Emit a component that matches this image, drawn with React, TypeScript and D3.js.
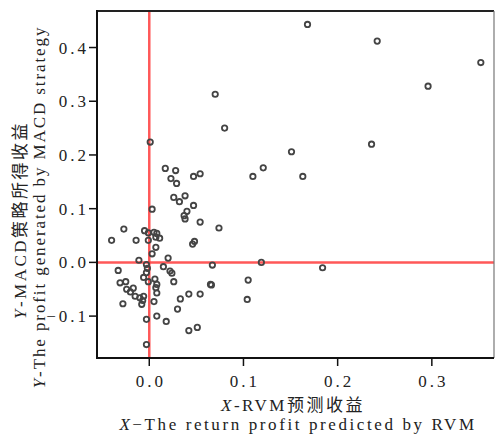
import React from 'react';
import * as d3 from 'd3';

// RVM predicted return (x) vs MACD strategy profit (y)
const xValues = [
  0.168, 0.242, 0.352, 0.296, 0.070, 0.080, 0.236, 0.001, 0.151, 0.121,
  0.110, 0.163, 0.017, 0.028, 0.023, 0.029, 0.047, 0.054, 0.026, 0.032,
  0.038, 0.047, 0.003, 0.040, 0.037, 0.038, 0.054, 0.074, 0.046, 0.048,
  -0.027, -0.040, -0.014, -0.005, -0.001, 0.005, 0.008, 0.011, 0.007, -0.001,
  0.007, 0.003, -0.011, -0.003, 0.020, 0.015, 0.022, 0.024, 0.026, -0.033,
  -0.003, -0.006, -0.001, 0.006, 0.008, 0.007, 0.008, -0.031, -0.025, -0.024,
  -0.020, -0.017, -0.015, -0.010, -0.006, -0.008, -0.028, 0.005, 0.033, 0.042,
  0.054, 0.030, 0.065, 0.066, 0.067, -0.003, 0.008, 0.018, 0.042, 0.051,
  -0.003, 0.119, 0.105, 0.104, 0.184, -0.007, -0.002,
];
const yValues = [
  0.443, 0.412, 0.372, 0.328, 0.313, 0.250, 0.220, 0.224, 0.206, 0.176,
  0.160, 0.160, 0.175, 0.171, 0.156, 0.147, 0.160, 0.165, 0.121, 0.113,
  0.124, 0.106, 0.099, 0.095, 0.087, 0.081, 0.075, 0.064, 0.034, 0.039,
  0.062, 0.041, 0.041, 0.059, 0.055, 0.056, 0.054, 0.045, 0.047, 0.041,
  0.028, 0.016, 0.004, -0.004, 0.008, -0.008, -0.016, -0.020, -0.036, -0.015,
  -0.019, -0.028, -0.036, -0.031, -0.041, -0.047, -0.057, -0.038, -0.036, -0.050,
  -0.055, -0.048, -0.063, -0.066, -0.063, -0.078, -0.077, -0.073, -0.068, -0.059,
  -0.059, -0.087, -0.041, -0.042, -0.005, -0.106, -0.100, -0.110, -0.127, -0.121,
  -0.153, 0.000, -0.033, -0.069, -0.010, -0.071, -0.011,
];

const xTicks = [0, 0.1, 0.2, 0.3];
const xTickLabels = ['0.0', '0.1', '0.2', '0.3'];
const yTicks = [-0.1, 0, 0.1, 0.2, 0.3, 0.4];
const yTickLabels = ['\u22120.1', '0.0', '0.1', '0.2', '0.3', '0.4'];
const xDomain = [-0.0555, 0.366];
const yDomain = [-0.178, 0.468];

const xTitleCn = 'RVM预测收益';
const xTitleEn = 'The return profit predicted by RVM';
const yTitleCn = 'MACD策略所得收益';
const yTitleEn = 'The profit generated by MACD strategy';

const W = 495;
const H = 435;
const L = 97, R = 494, T = 11, B = 358;
const FONT = '"Liberation Serif", "Noto Sans CJK SC", serif';

export default function App() {
  const x = d3.scaleLinear().domain(xDomain).range([L, R]);
  const y = d3.scaleLinear().domain(yDomain).range([B, T]);
  const pts = xValues.map((v, i) => [v, yValues[i]]);
  return (
    <svg width={W} height={H} style={{ position: 'absolute', left: 0, top: 0, background: '#fff' }}
      fontFamily={FONT}>
      <rect x={0} y={0} width={W} height={H} fill="#fff" />
      {/* reference lines */}
      <line x1={x(0)} x2={x(0)} y1={T} y2={B} stroke="#ff3b3b" strokeWidth={2.5} opacity={0.85} />
      <line x1={L} x2={R} y1={y(0)} y2={y(0)} stroke="#ff3b3b" strokeWidth={2.5} opacity={0.85} />
      {/* points */}
      {pts.map((p, i) => (
        <circle key={i} cx={x(p[0])} cy={y(p[1])} r={2.7} fill="none" stroke="#444" strokeWidth={1.8} />
      ))}
      {/* frame */}
      <line x1={L} x2={R} y1={T} y2={T} stroke="#222" strokeWidth={2} />
      <line x1={R} x2={R} y1={T} y2={B} stroke="#777" strokeWidth={1.2} />
      <line x1={L} x2={L} y1={T - 1} y2={B + 1} stroke="#111" strokeWidth={2} />
      <line x1={L - 1} x2={R} y1={B} y2={B} stroke="#111" strokeWidth={2} />
      {/* y ticks */}
      {yTicks.map((t, i) => (
        <g key={i}>
          <line x1={L - 8} x2={L} y1={y(t)} y2={y(t)} stroke="#111" strokeWidth={1.5} />
          <text x={L - 8} y={y(t) + 6} textAnchor="end" fontSize={17} letterSpacing={3} fill="#222">
            {yTickLabels[i]}
          </text>
        </g>
      ))}
      {/* x ticks */}
      {xTicks.map((t, i) => (
        <g key={i}>
          <line x1={x(t)} x2={x(t)} y1={B} y2={B + 8} stroke="#111" strokeWidth={1.5} />
          <text x={x(t) + 1.5} y={386.5} textAnchor="middle" fontSize={17} letterSpacing={3} fill="#222">
            {xTickLabels[i]}
          </text>
        </g>
      ))}
      {/* x title */}
      <text x={293} y={411} textAnchor="middle" fontSize={17} letterSpacing={2.5} fill="#222">
        <tspan fontStyle="italic">X</tspan>-{xTitleCn}
      </text>
      <text x={298} y={430} textAnchor="middle" fontSize={17} letterSpacing={2.6} fill="#222">
        <tspan fontStyle="italic">X</tspan>{'\u2212'}{xTitleEn}
      </text>
      {/* y title */}
      <text transform={`translate(26,220) rotate(-90)`} textAnchor="middle" fontSize={17} letterSpacing={2.5} fill="#222">
        <tspan fontStyle="italic">Y</tspan>-{yTitleCn}
      </text>
      <text transform={`translate(45,207) rotate(-90)`} textAnchor="middle" fontSize={17} letterSpacing={1.9} fill="#222">
        <tspan fontStyle="italic">Y</tspan>-{yTitleEn}
      </text>
    </svg>
  );
}
